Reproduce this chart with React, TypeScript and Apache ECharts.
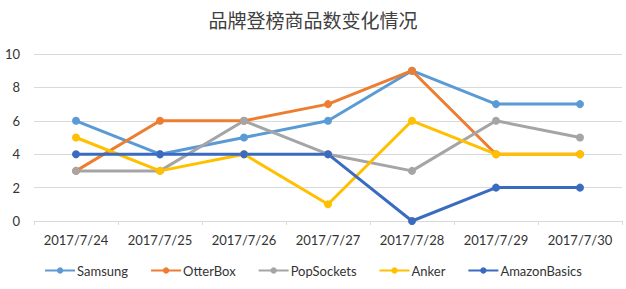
import React, { useEffect, useRef } from "react";
import * as echarts from "echarts";

const categories = ["2017/7/24", "2017/7/25", "2017/7/26", "2017/7/27", "2017/7/28", "2017/7/29", "2017/7/30"];
const samsung = [6, 4, 5, 6, 9, 7, 7];
const otterBox = [3, 6, 6, 7, 9, 4, 4];
const popSockets = [3, 3, 6, 4, 3, 6, 5];
const anker = [5, 3, 4, 1, 6, 4, 4];
const amazonBasics = [4, 4, 4, 4, 0, 2, 2];
const seriesNames = ["Samsung", "OtterBox", "PopSockets", "Anker", "AmazonBasics"];
const colors = ["#5B9BD5", "#ED7D31", "#A5A5A5", "#FFC000", "#3A6BC0"];

export default function App() {
  const ref = useRef<HTMLDivElement>(null);
  useEffect(() => {
    const chart = echarts.init(ref.current!, null, { renderer: "svg" });
    const datas = [samsung, otterBox, popSockets, anker, amazonBasics];
    chart.setOption({
      animation: false,
      backgroundColor: "#ffffff",
      title: {
        text: "品牌登榜商品数变化情况",
        left: "center",
        top: 5,
        textStyle: { fontFamily: "Noto Sans CJK SC", fontSize: 19, fontWeight: "normal", color: "#404040" },
      },
      color: colors,
      grid: { left: 34, right: 4, top: 54, bottom: 68 },
      legend: {
        bottom: 7,
        left: "center",
        itemWidth: 30,
        itemHeight: 8,
        itemGap: 22,
        textStyle: { fontFamily: "Lato", fontSize: 13, color: "#333333", padding: [0, 0, 0, -3] },
        data: seriesNames,
      },
      xAxis: {
        type: "category",
        data: categories,
        boundaryGap: true,
        axisLine: { lineStyle: { color: "#d9d9d9" } },
        axisTick: { show: true, length: 4, lineStyle: { color: "#d9d9d9" } },
        axisLabel: { fontFamily: "Lato", fontSize: 13, color: "#333333", margin: 12 },
      },
      yAxis: {
        type: "value",
        min: 0,
        max: 10,
        interval: 2,
        axisLine: { show: false },
        axisTick: { show: false },
        splitLine: { lineStyle: { color: "#d9d9d9" } },
        axisLabel: { fontFamily: "Lato", fontSize: 13, color: "#333333", margin: 14 },
      },
      series: seriesNames.map((name, i) => ({
        name,
        type: "line",
        data: datas[i],
        symbol: "circle",
        symbolSize: 8,
        lineStyle: { width: 3, color: colors[i] },
        itemStyle: { color: colors[i] },
      })),
    });
    return () => chart.dispose();
  }, []);
  return <div ref={ref} style={{ width: 626, height: 289, position: "absolute", left: 0, top: 0 }} />;
}
